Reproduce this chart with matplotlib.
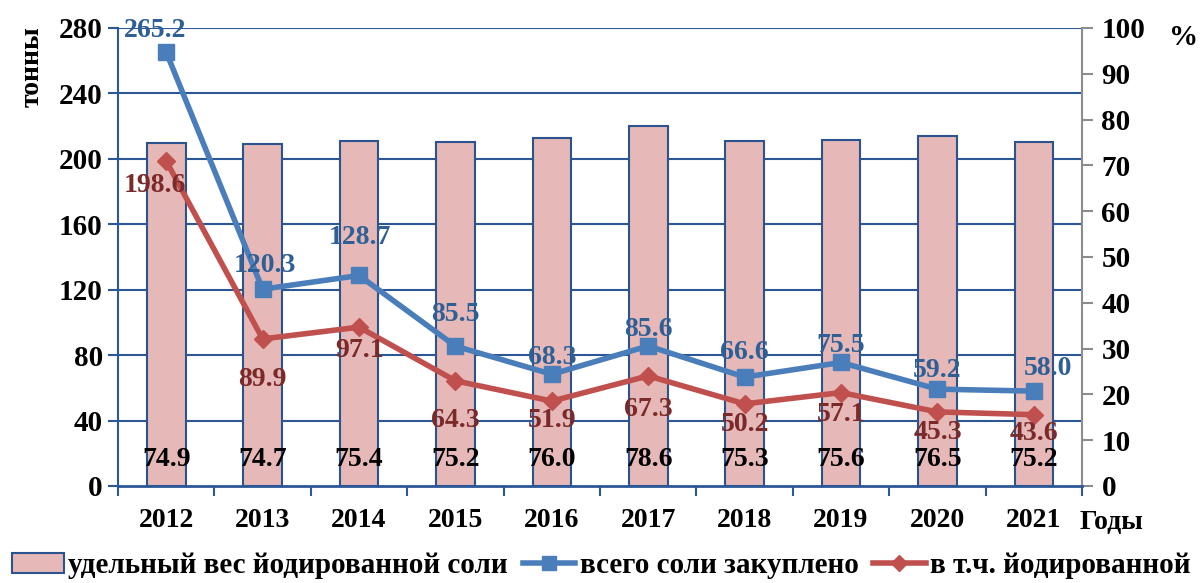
import numpy as np
import matplotlib.pyplot as plt
from matplotlib.lines import Line2D
from matplotlib.patches import Patch

years = ['2012', '2013', '2014', '2015', '2016', '2017', '2018', '2019', '2020', '2021']
share_iodized = [74.9, 74.7, 75.4, 75.2, 76.0, 78.6, 75.3, 75.6, 76.5, 75.2]
total_salt = [265.2, 120.3, 128.7, 85.5, 68.3, 85.6, 66.6, 75.5, 59.2, 58.0]
iodized_salt = [198.6, 89.9, 97.1, 64.3, 51.9, 67.3, 50.2, 57.1, 45.3, 43.6]

# label offsets in pixels (dx, dy)
blue_off = [(-11, 22), (2, 24), (1, 38), (0, 32), (0, 17), (0, 16), (0, 25), (0, 17), (0, 19), (14, 23)]
red_off = [(-11, -24), (0, -41), (1, -23), (0, -40), (0, -19), (0, -34), (0, -21), (0, -22), (0, -21), (0, -19)]

plt.rcParams['font.family'] = ['Liberation Serif', 'DejaVu Serif']
plt.rcParams['font.weight'] = 'bold'

grid_c = '#2B5797'
blue = '#4A7EBB'
red = '#C0504D'
blue_txt = '#2E6096'
red_txt = '#7A2A28'

fig = plt.figure(figsize=(12.02, 5.83), dpi=100)
ax = fig.add_axes([0.0982, 0.1664, 0.8020, 0.7856])
ax2 = ax.twinx()

x = np.arange(len(years))

# bars on the percent axis
ax2.bar(x, share_iodized, width=0.4, color='#E6B9B8', edgecolor='#2B5390', linewidth=1.5, zorder=2)
ax2.set_ylim(0, 100)
ax2.set_yticks(np.arange(0, 101, 10))
for v in np.arange(40, 281, 40):
    ax2.axhline(v / 2.8, color=grid_c, lw=1.5, zorder=0)

ax.set_ylim(0, 280)
ax.set_xlim(-0.5, len(years) - 0.5)
ax.set_yticks(np.arange(0, 281, 40))

ax.set_zorder(ax2.get_zorder() + 1)
ax.patch.set_visible(False)

ax.plot(x, total_salt, color=blue, lw=4, marker='s', ms=12, zorder=5)
ax.plot(x, iodized_salt, color=red, lw=4, marker='D', ms=9, zorder=4)

for i, v in enumerate(total_salt):
    ax.annotate(f'{v:.1f}', (x[i], v), xytext=blue_off[i], textcoords='offset pixels',
                ha='center', va='center', fontsize=20, color=blue_txt, fontweight='bold', zorder=6)
for i, v in enumerate(iodized_salt):
    ax.annotate(f'{v:.1f}', (x[i], v), xytext=red_off[i], textcoords='offset pixels',
                ha='center', va='center', fontsize=20, color=red_txt, fontweight='bold', zorder=6)
for i, v in enumerate(share_iodized):
    ax2.text(x[i], 5.8, f'{v:.1f}', ha='center', va='center', fontsize=20,
             color='black', fontweight='bold', zorder=6)

ax.set_xticks(x)
ax.set_xticklabels(years, fontsize=20)
ax.set_xticks(np.arange(-0.5, len(years), 1), minor=True)
ax.tick_params(axis='x', which='major', length=0, pad=16)
ax.tick_params(axis='x', which='minor', length=7, width=1.5, color=grid_c, direction='out')
ax.tick_params(axis='y', length=7, width=1.5, color=grid_c, labelsize=21, pad=4)
ax2.tick_params(axis='y', length=8, width=1.5, color='#8C8C8C', labelsize=21, pad=6)

ax.spines['top'].set_visible(False)
ax2.spines['top'].set_visible(False)
ax.spines['left'].set_color(grid_c)
ax.spines['left'].set_linewidth(1.5)
ax.spines['bottom'].set_color(grid_c)
ax.spines['bottom'].set_linewidth(2)
ax2.spines['left'].set_visible(False)
ax2.spines['bottom'].set_visible(False)
ax.spines['right'].set_visible(False)
ax2.spines['right'].set_color('#8C8C8C')
ax2.spines['right'].set_linewidth(1.5)

fig.text(0.027, 0.885, 'тонны', rotation=90, ha='center', va='center', fontsize=20, fontweight='bold')
fig.text(0.985, 0.935, '%', ha='center', va='center', fontsize=21, fontweight='bold')
fig.text(0.925, 0.103, 'Годы', ha='center', va='center', fontsize=20, fontweight='bold')

handles = [Patch(facecolor='#E6B9B8', edgecolor='#2B5390', linewidth=1.5),
           Line2D([], [], color=blue, lw=4, marker='s', ms=10),
           Line2D([], [], color=red, lw=4, marker='D', ms=8)]
labels = ['удельный вес йодированной соли', 'всего соли закуплено', 'в т.ч. йодированной']
fig.legend(handles, labels, loc='center', bbox_to_anchor=(0.5, 0.03), ncol=3, frameon=False,
           handlelength=1.8, handletextpad=0.15, columnspacing=0.5, borderaxespad=0,
           prop={'weight': 'bold', 'size': 21})

fig.savefig('out.png', dpi=100)
